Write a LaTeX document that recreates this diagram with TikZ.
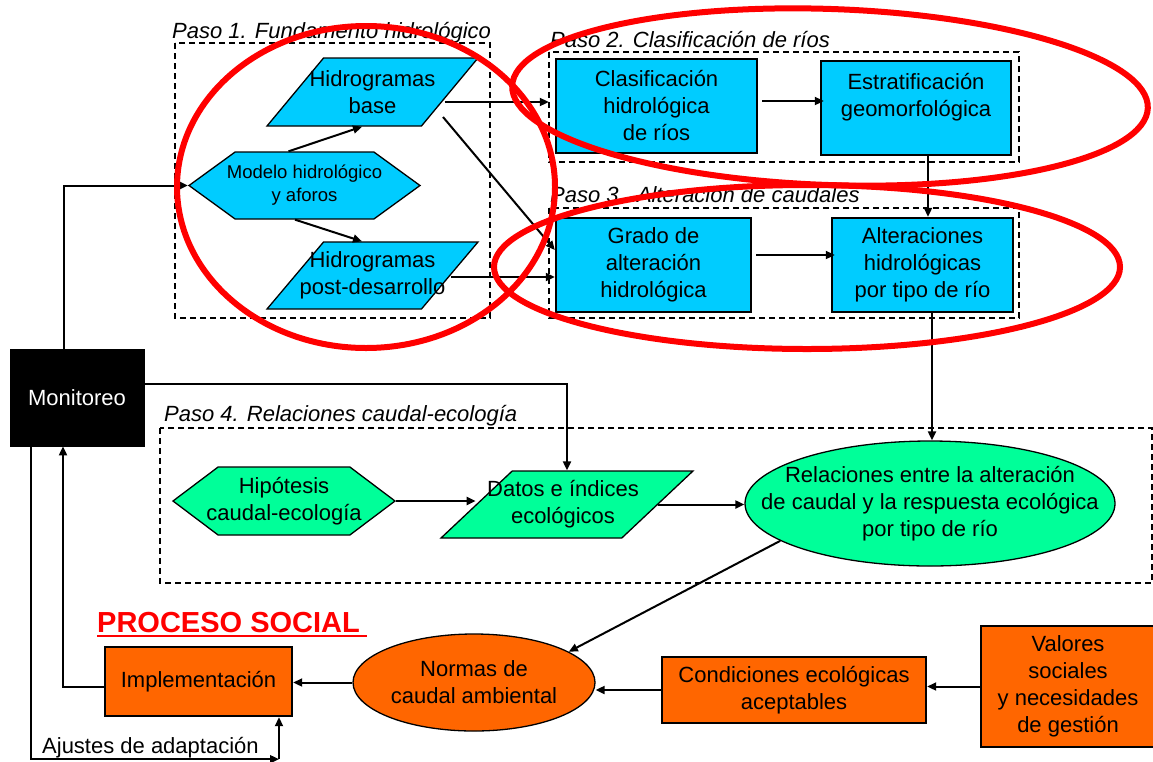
\documentclass[tikz,border=0pt]{standalone}
\usepackage{fontspec}
\setmainfont{Liberation Sans}
\usetikzlibrary{shapes.geometric,shapes.symbols,arrows.meta,calc}
\definecolor{cy}{HTML}{00CCFF}
\definecolor{gr}{HTML}{00FF99}
\definecolor{orng}{HTML}{FF6600}
\definecolor{rd}{HTML}{FF0000}
\begin{document}
\begin{tikzpicture}[x=1pt,y=-1pt,
  txt/.style={font=\fontsize{22}{27}\selectfont, align=center, text=black},
  box/.style={txt, rectangle, draw, line width=2.4pt, inner sep=0pt},
  paraA/.style={trapezium, trapezium left angle=60, trapezium right angle=120, trapezium stretches=true, draw, line width=1.3pt, inner sep=2pt},
  paraB/.style={trapezium, trapezium left angle=57, trapezium right angle=123, trapezium stretches=true, draw, line width=1.3pt, inner sep=2pt},
  hexa/.style={signal, signal to=west and east, signal pointer angle=#1, draw, line width=1.3pt, inner sep=2pt},
  ell/.style={ellipse, draw, line width=1.3pt, inner sep=2pt},
  conn/.style={line width=2pt, -{Triangle[length=9pt,width=8pt]}},
  frame/.style={line width=1.2pt, dash pattern=on 6pt off 4pt},
  paso/.style={font=\fontsize{22}{27}\selectfont\itshape, anchor=base west, inner sep=0pt},
  redring/.style={rd, line width=6pt},
]
\useasboundingbox (0,0) rectangle (1153,761);

% frames
\draw[frame] (175,43) rectangle (490,318);
\draw[frame] (549,52) rectangle (1019,162);
\draw[frame] (549,208) rectangle (1019,318);
\draw[frame] (160,428) rectangle (1152,583);

% step labels
\node[paso] (p1) at (172,38) {Paso 1. Fundamento hidrológico};
\node[paso] (p2) at (550,47) {Paso 2. Clasificación de ríos};
\node[paso] (p3) at (550,202) {Paso 3.\ \ Alteración de caudales};
\node[paso] (p4) at (164,421) {Paso 4. Relaciones caudal-ecología};

% Paso 1
\node[paraA, fill=cy, minimum width=211, minimum height=68,
  label={[txt]center:Hidrogramas\\base}] (hb) at (372.5,92) {};
\node[hexa=72, fill=cy, minimum width=231, minimum height=67,
  label={[txt, font=\fontsize{18.5}{23}\selectfont]center:Modelo hidrológico\\y aforos}] (mh) at (304.5,185.5) {};
\node[paraA, fill=cy, minimum width=211, minimum height=67,
  label={[txt]center:Hidrogramas\\post-desarrollo}] (hp) at (372.5,275.5) {};

% Paso 2 and 3
\node[box, fill=cy, minimum width=201, minimum height=94] (cl) at (656.5,106) {Clasificación\\hidrológica\\de ríos};
\node[box, fill=cy, minimum width=190, minimum height=94] (es) at (916,108) {Estratificación\\geomorfológica\\\mbox{}};
\node[box, fill=cy, minimum width=195, minimum height=94] (ga) at (653.5,265) {Grado de\\alteración\\hidrológica};
\node[box, fill=cy, minimum width=181, minimum height=94] (al) at (922.5,265) {Alteraciones\\hidrológicas\\por tipo de río};

% Monitoreo
\node[box, fill=black, text=white, line width=0.8pt, minimum width=134, minimum height=97] (mo) at (77,397.5) {Monitoreo};

% Paso 4
\node[hexa=74, fill=gr, minimum width=222, minimum height=68,
  label={[txt]center:Hipótesis\\caudal-ecología}] (hi) at (284,501) {};
\node[paraB, fill=gr, minimum width=252, minimum height=67,
  label={[txt, xshift=-4pt]center:Datos e índices\\ecológicos}] (da) at (567,504.5) {};
\node[ell, fill=gr, minimum width=370, minimum height=125,
  label={[txt]center:Relaciones entre la alteración\\de caudal y la respuesta ecológica\\por tipo de río}] (re) at (930,503.5) {};

% Proceso social
\node[font=\fontsize{29}{34}\selectfont\bfseries, text=rd, anchor=base west, inner sep=0pt] (ps) at (97,632) {PROCESO SOCIAL};
\draw[rd, line width=2.5pt] ($(ps.base west)+(0,4)$) -- ($(ps.base east)+(7,4)$);
\node[ell, fill=orng, minimum width=242, minimum height=97,
  label={[txt]center:Normas de\\caudal ambiental}] (no) at (474,682.5) {};
\node[box, fill=orng, minimum width=187, minimum height=69] (im) at (198.5,681.5) {Implementación};
\node[box, fill=orng, minimum width=264, minimum height=66] (co) at (794,690) {Condiciones ecológicas\\aceptables};
\node[box, fill=orng, minimum width=174, minimum height=121] (va) at (1068,686.5) {Valores\\sociales\\y necesidades\\de gestión};
\node[txt, anchor=base west, inner sep=0pt] (aj) at (42,753) {Ajustes de adaptación};

% connectors
\draw[conn] ([shift={(-13,0)}]mo.north) |- (mh.west);
\draw[conn] ([shift={(-16,0)}]mh.north) -- ([shift={(-10.5,0)}]hb.south);
\draw[conn] ([shift={(-9.5,0)}]mh.south) -- ([shift={(-10.5,0)}]hp.north);
\draw[conn] ([shift={(-6,10)}]hb.east) -- ([shift={(-6,10)}]hb.east -| cl.west);
\draw[conn] ([shift={(70.5,25)}]hb.center) -- ([shift={(0,-15)}]ga.west);
\draw[conn] ([shift={(0,1.5)}]hp.east) -- ([shift={(0,1.5)}]hp.east -| ga.west);
\draw[conn] ([shift={(4,-5)}]cl.east) -- ([shift={(4,-5)}]cl.east -| es.west);
\draw[conn] ([shift={(12,0)}]es.south) -- ([shift={(12,0)}]es.south |- al.north);
\draw[conn] ([shift={(4,-10)}]ga.east) -- ([shift={(4,-10)}]ga.east -| al.west);
\draw[conn] ([shift={(9.5,0)}]al.south) -- ([shift={(9.5,0)}]al.south |- re.north);
\draw[conn] ([shift={(0,-13.5)}]mo.east) -| (da.north);
\draw[conn] (hi.east) -- (hi.east -| da.west);
\draw[conn] (da.east) -- (da.east -| re.west);
\draw[conn] (re.194.5) -- (no.18.7);
\draw[conn] (no.west) -- (no.west -| im.east);
\draw[conn] (co.west) -- (co.west -| no.east);
\draw[conn] (va.west) -- (va.west -| co.east);
\draw[conn] ([shift={(0,5.5)}]im.west) -| ([shift={(-14,0)}]mo.south);
\coordinate (ajc) at ([shift={(80.5,42)}]im.south);
\draw[conn] ([shift={(-46,0)}]mo.south) |- (ajc);
\draw[conn] (ajc) -- ([shift={(80.5,0)}]im.south);

% red rings
\draw[redring] (366,187) ellipse [x radius=189, y radius=161];
\draw[redring, rotate around={-2:(830,97)}] (830,97) ellipse [x radius=318, y radius=88];
\draw[redring] (807,267) ellipse [x radius=313, y radius=82];
\end{tikzpicture}
\end{document}
